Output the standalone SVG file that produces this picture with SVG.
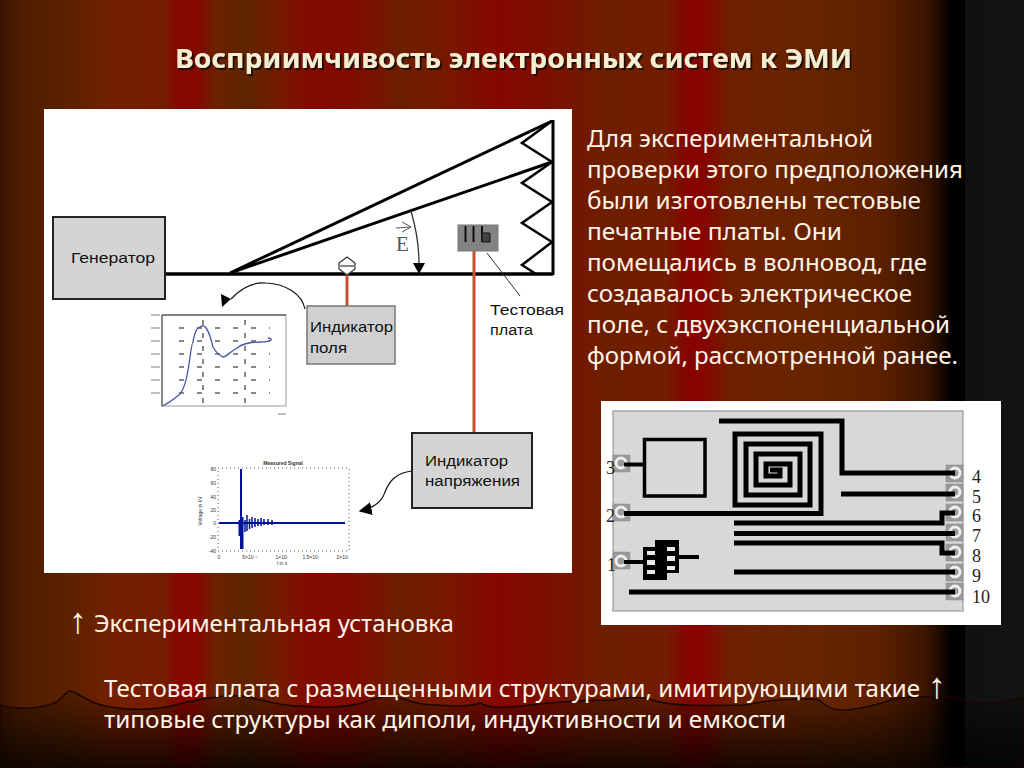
<svg xmlns="http://www.w3.org/2000/svg" width="1024" height="768" viewBox="0 0 1024 768">
<style>
.t{font-family:"Noto Sans","DejaVu Sans",sans-serif;font-size:23px;fill:#fff3e6}
.title{font-family:"Noto Sans","DejaVu Sans",sans-serif;font-size:27px;font-weight:700;fill:#f6eed2}
.arw{font-family:"Liberation Serif","DejaVu Serif",serif;font-size:36px;fill:#fff3e6;text-anchor:middle}
.lab{font-family:"Liberation Sans",Arial,sans-serif;font-size:15.5px;fill:#111}
.box{fill:#d4d4d4;stroke:#222;stroke-width:2}
.k{fill:none;stroke:#000;stroke-linejoin:miter}
.red{stroke:#c9502e;stroke-width:3;fill:none}
.dash{stroke:#111;stroke-width:1;fill:none}
.tick{font-family:"Liberation Sans",Arial,sans-serif;font-size:5px;fill:#333}
.num{font-family:"Liberation Serif",serif;font-size:18px;fill:#222}
.pad{fill:#9a9a9a;stroke:#888;stroke-width:.5}
.ring{fill:none;stroke:#eee;stroke-width:3}
.tr{fill:none;stroke:#000;stroke-width:5}
</style>
<defs>
<linearGradient id="bg" gradientUnits="userSpaceOnUse" x1="0" y1="0" x2="1024" y2="0">
<stop offset="0" stop-color="#3a1400"/><stop offset=".02" stop-color="#4e1c00"/><stop offset=".068" stop-color="#5c2200"/>
<stop offset=".11" stop-color="#732000"/><stop offset=".16" stop-color="#761c00"/><stop offset=".175" stop-color="#860600"/>
<stop offset=".19" stop-color="#860600"/><stop offset=".21" stop-color="#6e2000"/><stop offset=".24" stop-color="#5e2400"/>
<stop offset=".275" stop-color="#761a00"/><stop offset=".3" stop-color="#840a00"/><stop offset=".345" stop-color="#820c00"/>
<stop offset=".39" stop-color="#6c1e00"/><stop offset=".43" stop-color="#761900"/><stop offset=".49" stop-color="#860600"/>
<stop offset=".53" stop-color="#7c0e00"/><stop offset=".59" stop-color="#6e1e00"/><stop offset=".65" stop-color="#721c00"/>
<stop offset=".672" stop-color="#860400"/><stop offset=".685" stop-color="#860400"/><stop offset=".715" stop-color="#6e2000"/>
<stop offset=".8" stop-color="#662400"/><stop offset=".86" stop-color="#5c2000"/><stop offset=".905" stop-color="#3a1400"/>
<stop offset=".93" stop-color="#000"/><stop offset=".942" stop-color="#000"/><stop offset=".943" stop-color="#111"/><stop offset="1" stop-color="#141414"/>
</linearGradient>
<linearGradient id="shade" gradientUnits="userSpaceOnUse" x1="0" y1="695" x2="0" y2="768">
<stop offset="0" stop-color="#000" stop-opacity=".15"/><stop offset="1" stop-color="#000" stop-opacity=".78"/>
</linearGradient>
<filter id="sh" x="-5%" y="-30%" width="110%" height="160%"><feDropShadow dx="2" dy="2" stdDeviation=".7" flood-color="#1c0800" flood-opacity=".95"/></filter>
<filter id="soft" x="-5%" y="-5%" width="110%" height="110%"><feGaussianBlur stdDeviation=".35"/></filter>
<marker id="ah" viewBox="0 0 10 10" refX="9" refY="5" markerWidth="13" markerHeight="13" markerUnits="userSpaceOnUse" orient="auto"><path d="M0 0L10 5L0 10Z" fill="#000"/></marker>
</defs>

<g id="background">
<rect width="1024" height="768" fill="url(#bg)"/>
<path d="M0 705C15 710 40 709 55 703C62 699 66 691 70 691C76 691 82 698 95 703C115 710 150 712 175 705C200 699 225 695 240 696C255 697 275 706 300 706C325 708 345 708 365 702C375 698 385 696 392 696C402 697 412 705 435 705C455 706 470 707 480 703C490 709 505 708 530 705C555 702 590 700 612 700C625 697 640 697 650 699C665 706 700 706 745 705C760 703 770 700 779 700C795 699 808 698 819 700C825 706 832 710 842 710C858 710 870 706 885 702C895 698 905 697 915 697L955 697C965 700 972 704 985 704C1000 704 1012 700 1024 698V768H0Z" fill="url(#shade)" stroke="#1a0600" stroke-width="1.5"/>
</g>

<text id="title" class="title" x="175" y="68" textLength="677" lengthAdjust="spacingAndGlyphs" filter="url(#sh)">Восприимчивость электронных систем к ЭМИ</text>

<g id="setup-panel">
<rect x="44" y="109" width="528" height="464" fill="#fff"/>
</g>

<g id="connectors">
<path class="k" stroke-width="3.5" d="M165 274H553"/>
<path class="k" stroke-width="3" d="M230 273L552 121M230 273L552 162M553 120V275"/>
<path class="k" stroke-width="2.5" d="M552 121L522 143L552 162L522 183L552 202L522 223L552 242L522 265L536 274"/>
<path class="red" d="M347 274V306"/>
<path class="red" d="M474 251V433"/>
<path fill="none" stroke="#333" stroke-width="1" d="M487 253L520 296"/>
<path fill="none" stroke="#333" stroke-width="1.3" d="M411 211C416 228 419 248 419 264"/>
<path d="M413 263H425L419 274Z" fill="#000"/>
<path fill="none" stroke="#111" stroke-width="1.2" d="M231 299C243 286 255 282 266 283C286 284 302 294 305 309"/>
<path d="M221 294L231 299L222 307Z" fill="#000"/>
<path fill="none" stroke="#111" stroke-width="1.2" d="M412 471C395 473 389 482 385 492C382 502 374 508 360 511" marker-end="url(#ah)"/>
<path fill="none" stroke="#555" stroke-width="1" d="M396 228L411 227M402 222L411 227L402 232"/>
</g>

<g id="generator">
<rect class="box" x="53" y="217" width="112" height="82"/>
<text class="lab" x="71" y="263" textLength="84" lengthAdjust="spacingAndGlyphs">Генератор</text>
</g>

<g id="sensor">
<path d="M347 257L355 263V269L347 275L339 269V263Z" fill="#fff" stroke="#333" stroke-width="1.2" stroke-linejoin="round"/>
<path d="M340 266H354" stroke="#333" stroke-width="1.2"/>
</g>

<text id="e-label" x="396" y="251" font-family="Liberation Serif,serif" font-size="21" fill="#555">E</text>

<g id="test-board">
<rect x="458" y="225" width="40" height="26" fill="#838383" stroke="#777"/>
<path d="M465.500 226V242M473.500 226V242M482 226V242" stroke="#111" stroke-width="2" fill="none"/>
<path d="M482 233H490V242H482Z" fill="#444" stroke="#111"/>
</g>
<text class="lab" x="490" y="315" textLength="74" lengthAdjust="spacingAndGlyphs">Тестовая</text>
<text class="lab" x="490" y="335" textLength="43" lengthAdjust="spacingAndGlyphs">плата</text>

<g id="field-indicator">
<rect x="307" y="306" width="88" height="58" fill="#d0d0d0" stroke="#777" stroke-width="1.500"/>
<text class="lab" x="310" y="332" textLength="83" lengthAdjust="spacingAndGlyphs">Индикатор</text>
<text class="lab" x="310" y="353" textLength="37" lengthAdjust="spacingAndGlyphs">поля</text>
</g>

<g id="voltage-indicator">
<rect class="box" x="412" y="433" width="120" height="75" stroke="#333"/>
<text class="lab" x="425" y="466" textLength="83" lengthAdjust="spacingAndGlyphs">Индикатор</text>
<text class="lab" x="425" y="486" textLength="95" lengthAdjust="spacingAndGlyphs">напряжения</text>
</g>

<g id="chart-field" filter="url(#soft)">
<rect x="162" y="315" width="124" height="91" fill="#fff" stroke="#999" stroke-width="1"/>
<path d="M162 315H286" stroke="#666" stroke-width="1.500"/>
<path d="M162 315V406" stroke="#444" stroke-width="1"/>
<path class="dash" stroke-dasharray="5 13" d="M179 328H270M179 341H270M179 354H270M179 367H270M179 380H270M179 393H270"/>
<path class="dash" stroke-dasharray="5 8" d="M203 320V404M245 320V404"/>
<path d="M151 315H160M151 328H160M151 341H160M151 354H160M151 367H160M151 380H160M151 393H160M278 414H286" stroke="#aaa" stroke-width="1.500" fill="none"/>
<path fill="none" stroke="#4a55a8" stroke-width="1.300" d="M162 406C168 404 174 399 180 394C185 388 187 378 189 364C191 350 192 342 193 342C196 325 199 328 202 326C206 325 209 331 213 347C217 354 221 356 223 357C226 357 230 352 237 348C243 343 252 342 260 342C270 342 275 339 268 338"/>
</g>

<g id="chart-voltage">
<rect x="218" y="468" width="131" height="83" fill="#fff" stroke="#333" stroke-width=".8" stroke-dasharray="1 3"/>
<text class="tick" x="283" y="465" text-anchor="middle" font-weight="700">Measured Signal</text>
<g text-anchor="end">
<text class="tick" x="216" y="471">80</text><text class="tick" x="216" y="485">60</text><text class="tick" x="216" y="499">40</text><text class="tick" x="216" y="512">20</text><text class="tick" x="216" y="525">0</text><text class="tick" x="216" y="539">-20</text><text class="tick" x="216" y="553">-40</text>
</g>
<g text-anchor="middle">
<text class="tick" x="219" y="559">0</text><text class="tick" x="250" y="559">5×10⁻⁸</text><text class="tick" x="282" y="559">1×10⁷</text><text class="tick" x="311" y="559">1.5×10⁷</text><text class="tick" x="343" y="559">2×10⁷</text>
<text class="tick" x="282" y="565">t in s</text>
<text class="tick" transform="translate(202 511) rotate(-90)">Voltage in kV</text>
</g>
<path fill="none" stroke="#00129a" stroke-width="2.200" d="M219 523H345"/>
<path fill="none" stroke="#00129a" stroke-width="2" d="M241 469V549"/>
<path fill="none" stroke="#00129a" stroke-width="2" d="M239.500 520V536M242.500 517V549"/>
<path fill="none" stroke="#00129a" stroke-width="1.500" d="M245 520V532M247 515V531M249.500 519V529M252 517V528M255 518V527M258 519V526M261 518V526M264 519V525M268 519V525M272 520V525"/>
</g>

<g id="pcb">
<rect x="601" y="401" width="400" height="224" fill="#fff"/>
<rect x="613" y="411" width="350" height="200" fill="#d8d8d8" stroke="#999" stroke-width="1.200"/>
<g id="pads">
<rect class="pad" x="613" y="455" width="17" height="17"/><circle class="ring" cx="621" cy="463" r="5"/>
<rect class="pad" x="613" y="504" width="17" height="17"/><circle class="ring" cx="621" cy="512" r="5"/>
<rect class="pad" x="613" y="552" width="17" height="17"/><circle class="ring" cx="621" cy="561" r="5"/>
<rect class="pad" x="946" y="465" width="17" height="17"/><circle class="ring" cx="955" cy="473" r="5"/>
<rect class="pad" x="946" y="484" width="17" height="17"/><circle class="ring" cx="955" cy="492" r="5"/>
<rect class="pad" x="946" y="504" width="17" height="17"/><circle class="ring" cx="955" cy="512" r="5"/>
<rect class="pad" x="946" y="524" width="17" height="17"/><circle class="ring" cx="955" cy="532" r="5"/>
<rect class="pad" x="946" y="544" width="17" height="17"/><circle class="ring" cx="955" cy="552" r="5"/>
<rect class="pad" x="946" y="564" width="17" height="17"/><circle class="ring" cx="955" cy="572" r="5"/>
<rect class="pad" x="946" y="583" width="17" height="17"/><circle class="ring" cx="955" cy="591" r="5"/>
</g>
<path class="tr" d="M719 421H842V473H955"/>
<path class="tr" d="M841 494H955"/>
<path class="k" stroke-width="3.500" d="M644.500 439.500H705V496H644.500Z"/>
<path class="k" stroke-width="4" d="M624 464.500H645"/>
<path class="k" stroke-width="5" d="M624 513.500H821V434H735V505H810V444H746V495H800V454H756V485H790V464H766V476H780V470H770"/>
<path class="tr" d="M734 523H942V513H955"/>
<path class="tr" d="M734 533.500H955"/>
<path class="tr" d="M734 543H942V553H955"/>
<path class="tr" d="M734 572H955"/>
<path class="tr" d="M629 592H955"/>
<path class="k" stroke-width="4" d="M624 562H645M679 557H699"/>
<path d="M643 547H655V540H679V573H667V580H643Z" fill="#000"/>
<path d="M647 551H655V555H647ZM647 560H655V565H647ZM647 570H655V574H647ZM667 547H675V551H667ZM667 556H675V561H667ZM667 566H675V570H667Z" fill="#e8e8e8"/>
<g id="pin-numbers">
<text class="num" x="606" y="474">3</text><text class="num" x="606" y="522">2</text><text class="num" x="607" y="571">1</text>
<text class="num" x="972" y="483">4</text><text class="num" x="972" y="503">5</text><text class="num" x="972" y="522">6</text><text class="num" x="972" y="542">7</text><text class="num" x="972" y="562">8</text><text class="num" x="972" y="582">9</text><text class="num" x="972" y="603">10</text>
</g>
</g>

<g id="body-text">
<text class="t" x="587" y="147" textLength="286" lengthAdjust="spacingAndGlyphs">Для экспериментальной</text>
<text class="t" x="587" y="178" textLength="376" lengthAdjust="spacingAndGlyphs">проверки этого предположения</text>
<text class="t" x="587" y="209" textLength="334" lengthAdjust="spacingAndGlyphs">были изготовлены тестовые</text>
<text class="t" x="587" y="240" textLength="255" lengthAdjust="spacingAndGlyphs">печатные платы. Они</text>
<text class="t" x="587" y="271" textLength="340" lengthAdjust="spacingAndGlyphs">помещались в волновод, где</text>
<text class="t" x="587" y="302" textLength="325" lengthAdjust="spacingAndGlyphs">создавалось электрическое</text>
<text class="t" x="587" y="333" textLength="363" lengthAdjust="spacingAndGlyphs">поле, с двухэкспоненциальной</text>
<text class="t" x="587" y="364" textLength="371" lengthAdjust="spacingAndGlyphs">формой, рассмотренной ранее.</text>
</g>

<g id="captions">
<text class="arw" x="78" y="633">↑</text>
<text class="t" x="94" y="632" textLength="360" lengthAdjust="spacingAndGlyphs">Экспериментальная установка</text>
<text class="t" x="104" y="697" textLength="816" lengthAdjust="spacingAndGlyphs">Тестовая плата с размещенными структурами, имитирующими такие</text>
<text class="arw" x="937" y="698">↑</text>
<text class="t" x="104" y="728" textLength="682" lengthAdjust="spacingAndGlyphs">типовые структуры как диполи, индуктивности и емкости</text>
</g>
</svg>
